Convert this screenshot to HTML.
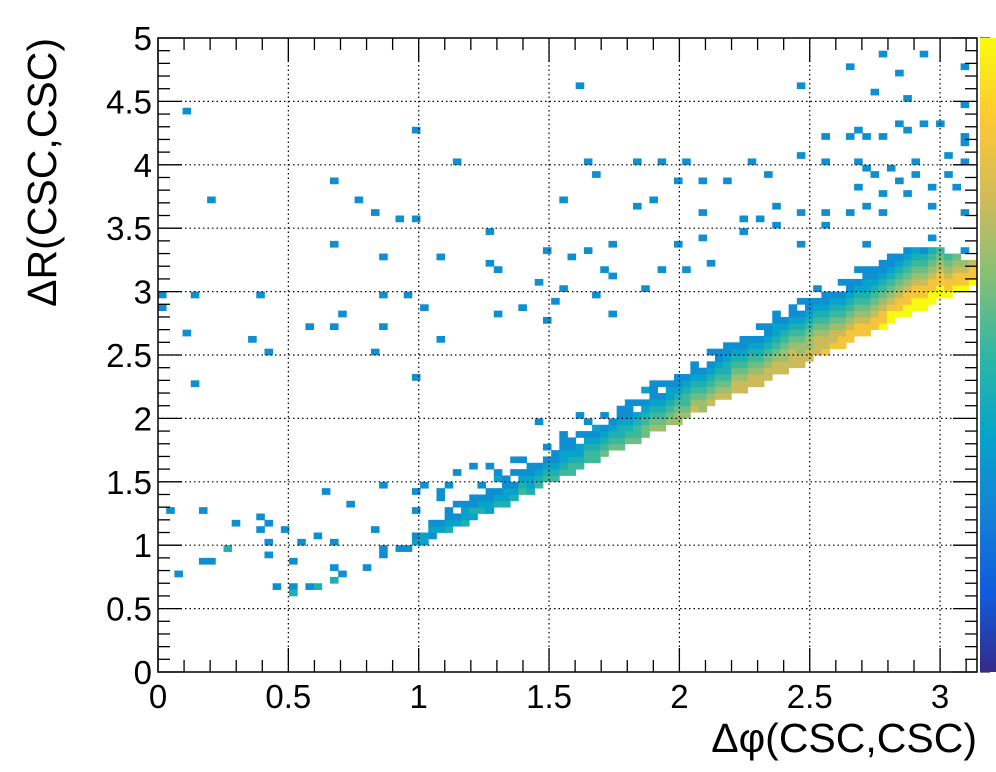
<!DOCTYPE html>
<html><head><meta charset="utf-8"><style>
html,body{margin:0;padding:0;background:#fff;}
svg{display:block;font-family:"Liberation Sans",sans-serif;}
</style></head><body>
<svg id="chart" width="996" height="772">
<g id="cells"></g>
<g id="grid"></g>
<g id="axes"></g>
<defs><linearGradient id="bird" x1="0" y1="1" x2="0" y2="0">
<stop offset="0" stop-color="rgb(53,42,135)"/><stop offset="0.125" stop-color="rgb(15,92,221)"/>
<stop offset="0.25" stop-color="rgb(20,129,214)"/><stop offset="0.375" stop-color="rgb(6,164,202)"/>
<stop offset="0.5" stop-color="rgb(46,183,164)"/><stop offset="0.625" stop-color="rgb(135,191,119)"/>
<stop offset="0.75" stop-color="rgb(209,187,89)"/><stop offset="0.875" stop-color="rgb(254,200,50)"/>
<stop offset="1" stop-color="rgb(249,251,14)"/></linearGradient></defs>
<rect x="980" y="38" width="16" height="634" fill="url(#bird)"/>
<text x="977" y="752" font-size="41" text-anchor="end">Δφ(CSC,CSC)</text>
<text transform="translate(56,38) rotate(-90)" font-size="41" text-anchor="end">ΔR(CSC,CSC)</text>
</svg>
<script>
// histogram: 100 bins in dphi over [0,pi], 100 bins in dR over [0,5]
const xTicks=[0,0.5,1,1.5,2,2.5,3];
const xTickLabels=["0","0.5","1","1.5","2","2.5","3"];
const yTicks=[0,0.5,1,1.5,2,2.5,3,3.5,4,4.5,5];
const yTickLabels=["0","0.5","1","1.5","2","2.5","3","3.5","4","4.5","5"];
// dense band: first x-bin index, lowest dR bin per x-bin, contents (levels) from low bin upward (0 = empty)
const bandFirstBin=30;
const bandLowBin=[19,20,20,21,22,22,23,23,24,25,25,26,26,27,28,28,29,30,30,31,31,32,33,33,34,35,35,36,36,37,38,38,39,39,40,41,41,42,43,43,44,44,45,45,46,47,47,48,48,49,50,50,51,51,52,53,53,54,54,55,56,56,57,57,58,59,59,60,60,61];
const bandLevels=["1","21","22","121","21","3211","2101","3221","2311","32101","2211","32102","3221","32101","432101","32211","4321","432101","43211","4322101","443211","432201","4432101","443212","5432101","54321","5433211","5432101","5443201","55432102","6543211","65432101","6543221","66543211","6544321","76543211","6654321","765432101","76543211","765433211","77654321","776543211","77654321","7765432101","776543211","7765432211","776654321","7776543211","77665432101","7766543211","77765432101","8776543211","877654321","88765432101","8876543211","88765432101","88765432211","8876543211","98876543211","99876543211","9887654321","99887654321","9988765432","9988765431","998876543","99887654","9887654","988765","98876","9887"];
// isolated entries (dphi, dR), 1 entry each
const ptPhi=[0.11,0.98,1.61,1.15,0.67,0.78,0.21,0.83,0.93,0.99,1.65,1.84,1.93,2.02,1.68,1.56,1.84,1.90,2.00,2.08,2.08,2.18,2.27,2.33,2.46,2.46,2.65,2.83,2.77,2.93,3.08,2.74,2.86,3.08,2.55,2.65,2.71,2.68,2.77,2.87,2.83,2.93,3.00,3.08,3.11,3.02,2.90,2.80,2.71,2.55,2.68,2.74,2.83,2.92,3.03,3.05,2.96,2.69,2.77,2.87,2.98,3.09,3.11,2.55,2.56,2.64,2.71,2.79,2.37,2.46,2.30,2.24,2.25,2.36,2.10,1.99,2.46,2.71,3.09,2.96,0.67,1.26,0.86,1.08,1.49,1.64,1.74,1.26,1.31,1.60,1.70,1.74,1.47,1.51,1.54,1.69,1.86,1.92,2.02,2.11,0.86,0.95,1.02,1.39,1.49,1.74,1.30,0.58,0.67,0.71,0.86,1.08,0.36,0.42,0.83,0.99,0.14,0.03,0.14,0.39,0.11,0.02,
0.05,0.18,0.30,0.39,0.42,0.39,0.49,0.54,0.62,0.67,0.74,0.64,0.86,0.83,0.86,0.27,0.20,0.42,0.42,0.52,0.68,0.66,0.62,0.58,0.53,0.47,0.52,0.72,0.80,0.85,0.93,0.08,0.18,0.99,0.99,1.03,1.08,1.13,1.16,1.20,1.27,1.31,1.36,1.39,1.46,1.61,1.54,1.56,1.71,1.73,1.82,1.90,2.00,2.08,2.13,2.19,2.25,2.31,2.34,2.38,2.46,2.54,2.61,2.73,2.77,2.84,2.98,1.13,1.08,1.21,1.30,1.35,1.45,1.62,1.69,1.77,1.85,1.89,1.96,2.02,2.08,2.17,2.29,2.42,2.52,2.59,2.65];
const ptDR=[4.43,4.27,4.63,4.04,3.88,3.73,3.73,3.63,3.58,3.58,4.03,4.04,4.04,4.02,3.92,3.74,3.66,3.73,3.88,3.88,3.64,3.88,4.00,3.94,4.08,4.63,4.79,4.72,4.89,4.89,4.79,4.57,4.53,4.47,4.24,4.24,4.21,4.29,4.20,4.29,4.35,4.34,4.31,4.17,4.21,4.08,4.04,3.97,3.96,4.04,4.00,3.90,3.86,3.90,3.94,3.84,3.84,3.80,3.76,3.76,3.68,3.64,4.04,3.60,3.53,3.64,3.68,3.60,3.68,3.63,3.58,3.56,3.48,3.53,3.42,3.38,3.38,3.38,3.33,3.41,3.39,3.49,3.29,3.29,3.34,3.32,3.38,3.21,3.15,3.25,3.17,3.13,3.08,2.93,3.01,2.96,3.03,3.19,3.19,3.20,2.97,2.97,2.89,2.88,2.78,2.83,2.84,2.74,2.74,2.83,2.70,2.63,2.64,2.54,2.54,2.33,2.29,2.97,2.97,2.97,2.68,2.89,
1.29,1.29,1.19,1.24,1.16,1.12,1.14,1.04,1.07,1.04,1.32,1.44,1.49,1.12,0.96,0.98,0.88,1.00,0.92,0.87,0.82,0.73,0.68,0.68,0.68,0.68,0.63,0.78,0.84,0.91,0.96,0.78,0.88,1.42,1.28,1.47,1.44,1.47,1.55,1.61,1.63,1.59,1.67,1.55,1.99,2.04,1.83,1.71,1.83,1.99,2.05,2.28,2.34,2.32,2.37,2.46,2.52,2.58,2.64,2.72,2.78,2.93,2.97,3.05,3.15,3.21,3.26,1.29,1.36,1.40,1.42,1.51,1.59,1.67,1.79,1.95,1.99,2.15,2.18,2.30,2.22,2.38,2.54,2.74,2.85,2.93,2.93];
// a few low-dphi bins with more entries (level 3)
const tealPhi=[0.66,0.62,0.52,0.27];
const tealDR=[0.73,0.68,0.63,0.98];

const X0=158,X1=977,Y0=672,Y1=38,XMAX=Math.PI,YMAX=5,NB=100;
const sx=v=>X0+v/XMAX*(X1-X0);
const sy=v=>Y0-v/YMAX*(Y0-Y1);
const NS="http://www.w3.org/2000/svg";
const stops=[[53,42,135],[15,92,221],[20,129,214],[6,164,202],[46,183,164],[135,191,119],[209,187,89],[254,200,50],[249,251,14]];
const levelFrac=[0,0.30,0.37,0.45,0.52,0.59,0.66,0.74,0.85,1.0];
function col(level){
  const f=levelFrac[level]*(stops.length-1);
  const i=Math.min(stops.length-2,Math.floor(f)),t=f-i;
  const c=stops[i].map((a,k)=>Math.round(a+(stops[i+1][k]-a)*t));
  return `rgb(${c[0]},${c[1]},${c[2]})`;
}
const grid={};
function fill(ix,iy,lv){if(lv<=0||ix<0||ix>=NB||iy<0||iy>=NB)return;const k=ix+','+iy;grid[k]=Math.max(grid[k]||0,lv);}
bandLevels.forEach((s,j)=>{for(let m=0;m<s.length;m++)fill(bandFirstBin+j,bandLowBin[j]+m,+s[m]);});
ptPhi.forEach((p,i)=>{const ix=Math.floor(p/XMAX*NB),iy=Math.floor(ptDR[i]/YMAX*NB);if(!grid[ix+','+iy])fill(ix,iy,1);});
tealPhi.forEach((p,i)=>fill(Math.floor(p/XMAX*NB),Math.floor(tealDR[i]/YMAX*NB),3));
const cg=document.getElementById('cells');
for(const k in grid){
  const [ix,iy]=k.split(',').map(Number);
  const r=document.createElementNS(NS,'rect');
  const xa=sx(ix*XMAX/NB),xb=sx((ix+1)*XMAX/NB),ya=sy((iy+1)*YMAX/NB),yb=sy(iy*YMAX/NB);
  r.setAttribute('x',xa);r.setAttribute('y',ya);r.setAttribute('width',xb-xa+0.4);r.setAttribute('height',yb-ya+0.4);
  r.setAttribute('fill',col(grid[k]));
  
  
  cg.appendChild(r);
}
const gg=document.getElementById('grid'),ag=document.getElementById('axes');
function line(g,x1,y1,x2,y2,extra){const l=document.createElementNS(NS,'line');l.setAttribute('x1',x1);l.setAttribute('y1',y1);l.setAttribute('x2',x2);l.setAttribute('y2',y2);l.setAttribute('stroke','#000');l.setAttribute('stroke-width',extra&&extra.w||1.3);if(extra&&extra.dash)l.setAttribute('stroke-dasharray',extra.dash);g.appendChild(l);return l;}
xTicks.forEach(v=>{if(v>0){const l=line(gg,sx(v),Y1,sx(v),Y0,{dash:'1.5 3',w:1.2});}});
yTicks.forEach(v=>{if(v>0&&v<5){const l=line(gg,X0,sy(v),X1,sy(v),{dash:'1.5 3',w:1.2});}});
const fr=document.createElementNS(NS,'rect');fr.setAttribute('x',X0);fr.setAttribute('y',Y1);fr.setAttribute('width',X1-X0);fr.setAttribute('height',Y0-Y1);fr.setAttribute('fill','none');fr.setAttribute('stroke','#000');fr.setAttribute('stroke-width',1.5);


ag.appendChild(fr);
for(let i=0;i<=31;i++){const v=i*0.1,L=(i%5===0)?24:12;line(ag,sx(v),Y0,sx(v),Y0-L);line(ag,sx(v),Y1,sx(v),Y1+L);}
for(let i=0;i<=50;i++){const v=i*0.1,L=(i%5===0)?24:12;line(ag,X0,sy(v),X0+L,sy(v));line(ag,X1,sy(v),X1-L,sy(v));}
xTicks.forEach((v,i)=>{const t=document.createElementNS(NS,'text');t.setAttribute('x',sx(v));t.setAttribute('y',Y0+36);t.setAttribute('font-size','33');t.setAttribute('text-anchor','middle');t.textContent=xTickLabels[i];


ag.appendChild(t);});
yTicks.forEach((v,i)=>{const t=document.createElementNS(NS,'text');t.setAttribute('x',X0-6);t.setAttribute('y',sy(v)+12);t.setAttribute('font-size','33');t.setAttribute('text-anchor','end');t.textContent=yTickLabels[i];


ag.appendChild(t);});
for(let i=0;i<=20;i++){const y=Y0-i*(Y0-Y1)/20;line(ag,980,y,980+(i%5===0?10:5),y,{w:1});}
</script>
</body></html>
